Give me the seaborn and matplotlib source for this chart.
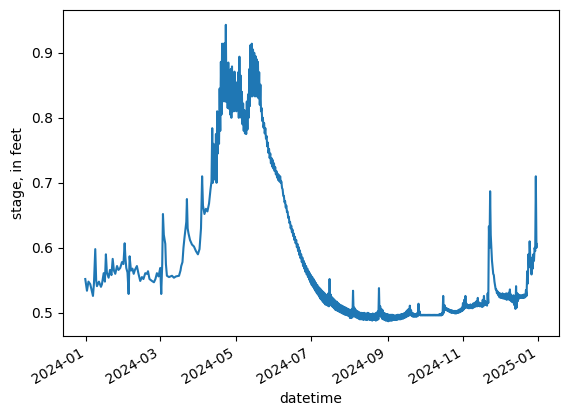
import numpy as np
import pandas as pd
import matplotlib
matplotlib.use("Agg")
import matplotlib.pyplot as plt
import matplotlib.dates as mdates
import seaborn as sns

START = "2024-01-01"

# Jan - early Apr: single trace (days since 2024-01-01, stage in feet)
early_days = [-0.8, 0.57, 1.78, 3.24, 4.21, 5.43, 6.23, 7.29, 8.02, 8.66, 10.28, 11.9, 12.7,
              14.1, 15.1, 15.9, 16.7, 18.1, 19.2, 20.4, 21.4, 22.4, 23.5, 24.9, 26.1, 27.5,
              28.9, 30.1, 31.1, 31.7, 32.4, 33.4, 34.3, 35.1, 36.2, 37.4, 38.4, 39.4, 41.0,
              42.3, 43.7, 45.1, 46.3, 47.8, 49.1, 50.0, 51.2, 53.2, 54.8, 56.0, 57.2, 58.5,
              59.9, 60.7, 61.5, 62.1, 62.8, 64.0, 64.5, 65.3, 67.0, 69.4, 71.0, 72.6, 75.1,
              76.3, 76.9, 77.9, 78.7, 79.5, 80.3, 81.0, 81.5, 82.1, 82.8, 84.0, 85.6, 87.2,
              88.8, 90.4, 91.7, 92.9, 93.8, 94.5, 95.7, 96.9, 98.1, 99.4, 100.6, 101.4]
early_stage = [0.552, 0.534, 0.548, 0.544, 0.536, 0.526, 0.545, 0.598, 0.550, 0.541, 0.548, 0.540, 0.544,
               0.561, 0.548, 0.590, 0.562, 0.554, 0.566, 0.558, 0.583, 0.565, 0.560, 0.572, 0.566, 0.569,
               0.578, 0.575, 0.607, 0.585, 0.569, 0.562, 0.529, 0.587, 0.565, 0.568, 0.560, 0.566, 0.572,
               0.560, 0.549, 0.555, 0.552, 0.561, 0.560, 0.564, 0.552, 0.549, 0.547, 0.552, 0.561, 0.556,
               0.569, 0.529, 0.575, 0.652, 0.620, 0.606, 0.575, 0.557, 0.555, 0.557, 0.554, 0.556, 0.557,
               0.565, 0.572, 0.578, 0.600, 0.615, 0.628, 0.640, 0.675, 0.630, 0.622, 0.612, 0.605, 0.602,
               0.595, 0.590, 0.598, 0.630, 0.710, 0.665, 0.652, 0.660, 0.656, 0.668, 0.690, 0.702]

# Apr - Dec: daily high / low readings (diurnal band)
band_first_day = 102
band_high = [0.784, 0.760, 0.740, 0.775, 0.810, 0.790, 0.845, 0.886, 0.914, 0.900,  # 102-111
             0.915, 0.943, 0.870, 0.885, 0.860, 0.875, 0.879, 0.860, 0.871, 0.855,  # 112-121
             0.840, 0.870, 0.894, 0.865, 0.840, 0.822, 0.812, 0.810, 0.825, 0.836,  # 122-131
             0.875, 0.912, 0.914, 0.905, 0.900, 0.895, 0.890, 0.886, 0.870, 0.851,  # 132-141
             0.815, 0.800, 0.792, 0.784, 0.772, 0.762, 0.752, 0.745, 0.738, 0.735,  # 142-151
             0.730, 0.724, 0.718, 0.714, 0.712, 0.710, 0.702, 0.690, 0.680, 0.672,  # 152-161
             0.665, 0.656, 0.648, 0.640, 0.634, 0.628, 0.622, 0.617, 0.612, 0.606,  # 162-171
             0.601, 0.596, 0.590, 0.585, 0.580, 0.576, 0.572, 0.568, 0.564, 0.561,  # 172-181
             0.558, 0.555, 0.552, 0.549, 0.546, 0.543, 0.540, 0.538, 0.536, 0.534,  # 182-191
             0.532, 0.530, 0.528, 0.527, 0.530, 0.552, 0.528, 0.524, 0.522, 0.520,  # 192-201
             0.518, 0.517, 0.515, 0.513, 0.512, 0.511, 0.510, 0.509, 0.508, 0.507,  # 202-211
             0.506, 0.505, 0.504, 0.506, 0.534, 0.508, 0.505, 0.503, 0.502, 0.501,  # 212-221
             0.500, 0.500, 0.499, 0.500, 0.499, 0.499, 0.500, 0.499, 0.498, 0.498,  # 222-231
             0.499, 0.498, 0.499, 0.500, 0.502, 0.538, 0.510, 0.506, 0.504, 0.500,  # 232-241
             0.499, 0.498, 0.498, 0.497, 0.497, 0.497, 0.497, 0.496, 0.496, 0.496,  # 242-251
             0.497, 0.497, 0.497, 0.498, 0.498, 0.499, 0.500, 0.502, 0.504, 0.506,  # 252-261
             0.511, 0.504, 0.500, 0.499, 0.498, 0.498, 0.500, 0.514, 0.502, 0.497,  # 262-271
             0.497, 0.497, 0.497, 0.497, 0.497, 0.497, 0.497, 0.497, 0.497, 0.497,  # 272-281
             0.497, 0.497, 0.497, 0.497, 0.498, 0.498, 0.500, 0.526, 0.512, 0.508,  # 282-291
             0.507, 0.506, 0.505, 0.504, 0.504, 0.503, 0.503, 0.503, 0.503, 0.504,  # 292-301
             0.505, 0.506, 0.508, 0.515, 0.520, 0.526, 0.514, 0.512, 0.512, 0.513,  # 302-311
             0.512, 0.514, 0.515, 0.516, 0.518, 0.523, 0.516, 0.515, 0.514, 0.520,  # 312-321
             0.526, 0.518, 0.514, 0.530, 0.633, 0.687, 0.600, 0.570, 0.558, 0.542,  # 322-331
             0.536, 0.533, 0.531, 0.530, 0.529, 0.530, 0.528, 0.529, 0.530, 0.528,  # 332-341
             0.531, 0.536, 0.528, 0.524, 0.527, 0.520, 0.541, 0.530, 0.528, 0.527,  # 342-351
             0.527, 0.527, 0.528, 0.528, 0.535, 0.564, 0.590, 0.610, 0.585, 0.578,  # 352-361
             0.590, 0.600, 0.710]                                                   # 362-364
band_low = [0.700, 0.705, 0.715, 0.700, 0.745, 0.760, 0.780, 0.805, 0.825, 0.830,
            0.825, 0.825, 0.815, 0.814, 0.805, 0.800, 0.810, 0.810, 0.814, 0.810,
            0.814, 0.800, 0.810, 0.800, 0.790, 0.780, 0.776, 0.775, 0.782, 0.800,
            0.818, 0.833, 0.833, 0.835, 0.833, 0.833, 0.833, 0.830, 0.820, 0.810,
            0.795, 0.785, 0.776, 0.768, 0.756, 0.746, 0.738, 0.730, 0.725, 0.722,
            0.718, 0.713, 0.708, 0.704, 0.702, 0.700, 0.692, 0.680, 0.670, 0.662,
            0.655, 0.646, 0.638, 0.630, 0.624, 0.618, 0.612, 0.607, 0.601, 0.595,
            0.589, 0.584, 0.578, 0.572, 0.568, 0.563, 0.559, 0.555, 0.551, 0.547,
            0.543, 0.540, 0.537, 0.534, 0.531, 0.528, 0.525, 0.522, 0.520, 0.517,
            0.515, 0.513, 0.512, 0.511, 0.510, 0.515, 0.511, 0.509, 0.507, 0.505,
            0.504, 0.503, 0.502, 0.501, 0.500, 0.499, 0.498, 0.497, 0.497, 0.496,
            0.495, 0.492, 0.492, 0.493, 0.497, 0.494, 0.493, 0.492, 0.491, 0.490,
            0.490, 0.490, 0.489, 0.490, 0.489, 0.489, 0.490, 0.489, 0.489, 0.488,
            0.489, 0.489, 0.488, 0.489, 0.490, 0.495, 0.494, 0.491, 0.490, 0.489,
            0.488, 0.488, 0.487, 0.488, 0.488, 0.488, 0.489, 0.489, 0.489, 0.489,
            0.490, 0.490, 0.490, 0.491, 0.491, 0.492, 0.493, 0.494, 0.495, 0.496,
            0.497, 0.495, 0.494, 0.494, 0.494, 0.494, 0.495, 0.497, 0.496, 0.496,
            0.496, 0.496, 0.496, 0.496, 0.496, 0.496, 0.496, 0.496, 0.496, 0.496,
            0.496, 0.496, 0.496, 0.496, 0.496, 0.496, 0.497, 0.500, 0.505, 0.504,
            0.503, 0.502, 0.501, 0.500, 0.500, 0.500, 0.499, 0.499, 0.500, 0.500,
            0.501, 0.502, 0.503, 0.505, 0.507, 0.508, 0.508, 0.507, 0.507, 0.508,
            0.507, 0.508, 0.509, 0.510, 0.510, 0.511, 0.510, 0.510, 0.509, 0.510,
            0.512, 0.512, 0.511, 0.515, 0.600, 0.620, 0.580, 0.560, 0.548, 0.536,
            0.530, 0.527, 0.524, 0.523, 0.523, 0.522, 0.522, 0.521, 0.520, 0.521,
            0.520, 0.519, 0.517, 0.516, 0.512, 0.506, 0.508, 0.518, 0.522, 0.523,
            0.523, 0.523, 0.523, 0.524, 0.526, 0.545, 0.570, 0.585, 0.559, 0.568,
            0.580, 0.595, 0.600]
end_day = [364.5]
end_stage = [0.606]

# ---- assemble the series ----
band_days = np.arange(band_first_day, band_first_day + len(band_high))
inter_days = np.ravel(np.column_stack([band_days, band_days + 0.5]))
inter_stage = np.ravel(np.column_stack([band_high, band_low]))
days = np.concatenate([early_days, inter_days, end_day])
stage = np.concatenate([early_stage, inter_stage, end_stage])
df = pd.DataFrame({
    "datetime": pd.Timestamp(START) + pd.to_timedelta(days, unit="D"),
    "stage": stage,
})

fig, ax = plt.subplots(figsize=(5.67, 4.17), dpi=100)
sns.lineplot(data=df, x="datetime", y="stage", ax=ax, color="#1f77b4",
             linewidth=1.5, sort=True, estimator=None)
ax.set_xlabel("datetime")
ax.set_ylabel("stage, in feet")
ax.xaxis.set_major_locator(mdates.MonthLocator(bymonth=[1, 3, 5, 7, 9, 11]))
ax.xaxis.set_major_formatter(mdates.DateFormatter("%Y-%m"))
ax.set_yticks([0.5, 0.6, 0.7, 0.8, 0.9])
fig.autofmt_xdate()
fig.subplots_adjust(left=0.1106, right=0.9859, bottom=0.194, top=0.976)
fig.savefig("out.png", dpi=100)
